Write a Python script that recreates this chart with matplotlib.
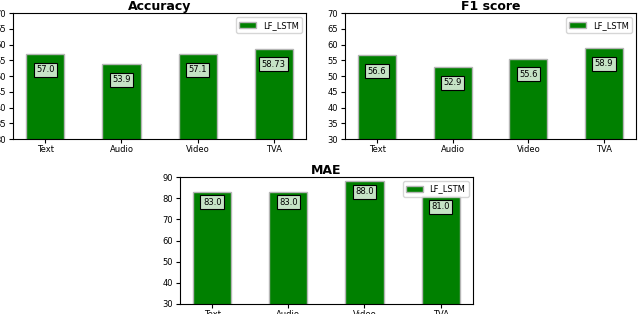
import matplotlib
matplotlib.use("Agg")
import matplotlib.pyplot as plt

# データ
categories = ["Text", "Audio", "Video", "TVA"]
accuracy = [57.0, 53.9, 57.1, 58.73]
f1_score = [56.6, 52.9, 55.6, 58.9]
mae = [83.0, 83.0, 88.0, 81.0]
acc_labels = ["57.0", "53.9", "57.1", "58.73"]
f1_labels = ["56.6", "52.9", "55.6", "58.9"]
mae_labels = ["83.0", "83.0", "88.0", "81.0"]

fig = plt.figure(figsize=(6.4, 3.14), dpi=100)

ax1 = fig.add_axes([0.0203, 0.557, 0.458, 0.401])
ax2 = fig.add_axes([0.539, 0.557, 0.455, 0.401])
ax3 = fig.add_axes([0.281, 0.032, 0.458, 0.404])


def draw(ax, values, labels, title, ylim, yticks):
    x = range(len(categories))
    ax.bar(x, values, width=0.5, color="green", edgecolor="#b5b5b5",
           linewidth=1.0, label="LF_LSTM")
    for i, v in enumerate(values):
        ax.text(i, v - 5, labels[i], ha="center", va="center", fontsize=6,
                bbox=dict(boxstyle="square,pad=0.3", facecolor="#c5e3c5",
                          edgecolor="black", linewidth=0.8))
    ax.set_xticks(list(x))
    ax.set_xticklabels(categories, fontsize=6)
    ax.set_ylim(*ylim)
    ax.set_yticks(yticks)
    ax.tick_params(axis="y", labelsize=6, length=3, pad=2)
    ax.tick_params(axis="x", length=3, pad=1)
    ax.set_title(title, fontsize=9, fontweight="bold", pad=2)
    ax.legend(loc="upper right", fontsize=6)


draw(ax1, accuracy, acc_labels, "Accuracy", (30, 70), range(30, 71, 5))
draw(ax2, f1_score, f1_labels, "F1 score", (30, 70), range(30, 71, 5))
draw(ax3, mae, mae_labels, "MAE", (30, 90), range(30, 91, 10))

plt.savefig("out.png", dpi=100)
